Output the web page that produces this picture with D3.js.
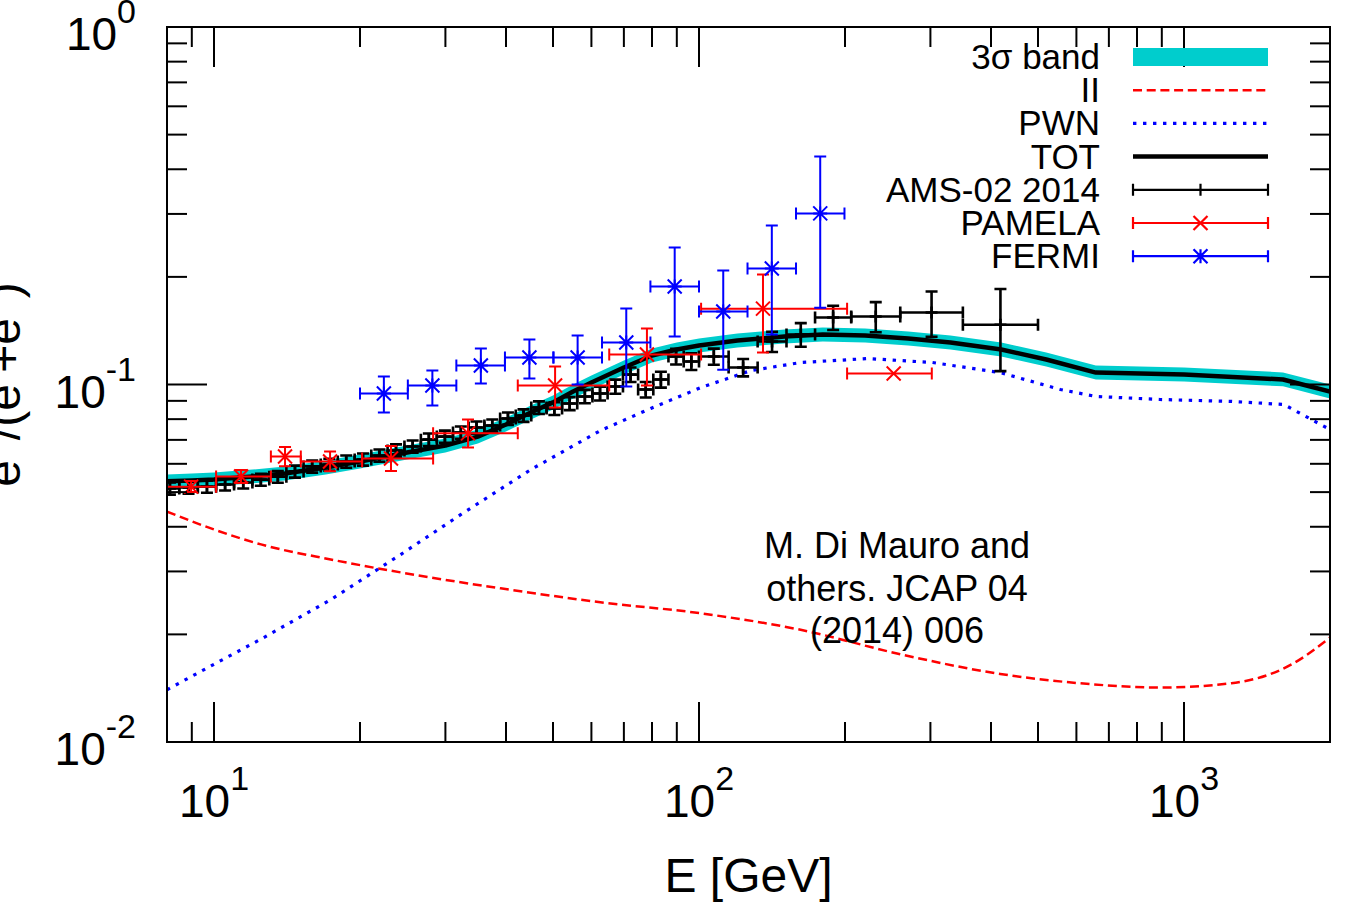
<!DOCTYPE html>
<html>
<head>
<meta charset="utf-8">
<script src="https://cdn.jsdelivr.net/npm/d3@7"></script>
<style>
  body { margin: 0; background: #fff; }
  text { font-family: "Liberation Sans", Arial, Helvetica, sans-serif; fill: #000; }
</style>
</head>
<body>
<script>
// ---- model curves ----
var modelE = [8, 9, 10, 12, 14, 17, 20, 25, 30, 35, 40, 45, 50, 55, 60, 70, 80, 90, 100, 120, 150, 180, 220, 270, 330, 420, 520, 658, 1000, 1600, 2000];
var totVal = [0.0536, 0.0539, 0.0542, 0.0553, 0.0564, 0.0586, 0.0609, 0.0645, 0.0675, 0.0715, 0.0773, 0.0835, 0.0891, 0.0956, 0.1013, 0.1116, 0.1205, 0.1253, 0.1286, 0.1328, 0.1362, 0.1380, 0.1371, 0.1345, 0.1311, 0.1253, 0.1175, 0.1080, 0.1067, 0.1033, 0.0956];
var bandHi = [0.0560, 0.0564, 0.0567, 0.0578, 0.0590, 0.0613, 0.0637, 0.0675, 0.0706, 0.0748, 0.0808, 0.0873, 0.0932, 0.1000, 0.1060, 0.1167, 0.1260, 0.1311, 0.1345, 0.1389, 0.1425, 0.1443, 0.1434, 0.1407, 0.1371, 0.1311, 0.1229, 0.1130, 0.1116, 0.1081, 0.1000];
var bandLo = [0.0512, 0.0515, 0.0519, 0.0529, 0.0539, 0.0560, 0.0582, 0.0617, 0.0645, 0.0684, 0.0739, 0.0798, 0.0851, 0.0914, 0.0968, 0.1067, 0.1152, 0.1198, 0.1229, 0.1270, 0.1302, 0.1319, 0.1311, 0.1286, 0.1253, 0.1198, 0.1123, 0.1033, 0.1020, 0.0988, 0.0914];

var iiE   = [8, 10, 12.5, 17.4, 24.3, 39, 62.6, 101, 162, 260, 418, 610, 892, 1252, 1669, 2000];
var iiVal = [0.0441, 0.0393, 0.0357, 0.0324, 0.0298, 0.0269, 0.0246, 0.0229, 0.0206, 0.0176, 0.0155, 0.0146, 0.0142, 0.0146, 0.0165, 0.0196];

var pwnE   = [8, 10, 12.5, 17.4, 24.3, 32.3, 45, 62.6, 79.5, 101, 128, 162, 223, 303, 418, 556, 658, 892, 1252, 1607, 2000];
var pwnVal = [0.0140, 0.0165, 0.0194, 0.0250, 0.0335, 0.0433, 0.0578, 0.0743, 0.0857, 0.0981, 0.1094, 0.1152, 0.1182, 0.1152, 0.1080, 0.0968, 0.0926, 0.0908, 0.0897, 0.0879, 0.0748];

// ---- data points ----
// AMS-02 2014: [Elo, Ehi, value, error]
var ams = [
  [7.76, 8.48, 0.0512, 0.0020], [8.48, 9.26, 0.0515, 0.0020], [9.26, 10.1, 0.0518, 0.0020],
  [10.1, 11.0, 0.0525, 0.0020], [11.0, 12.0, 0.0532, 0.0020], [12.0, 13.0, 0.0542, 0.0021],
  [13.0, 14.1, 0.0552, 0.0021], [14.1, 15.3, 0.0571, 0.0022], [15.3, 16.6, 0.0590, 0.0023],
  [16.6, 18.0, 0.0597, 0.0023], [18.0, 19.5, 0.0609, 0.0024], [19.5, 21.1, 0.0617, 0.0024],
  [21.1, 22.8, 0.0633, 0.0025], [22.8, 24.7, 0.0654, 0.0026], [24.7, 26.7, 0.0671, 0.0026],
  [26.7, 28.8, 0.0701, 0.0028], [28.8, 31.1, 0.0715, 0.0028], [31.1, 33.5, 0.0734, 0.0029],
  [33.5, 36.1, 0.0758, 0.0030], [36.1, 38.9, 0.0768, 0.0030], [38.9, 41.9, 0.0803, 0.0032],
  [41.9, 45.1, 0.0819, 0.0033], [45.1, 48.5, 0.0862, 0.0035], [48.5, 52.2, 0.0857, 0.0035],
  [52.2, 56.1, 0.0885, 0.0037], [56.1, 60.3, 0.0926, 0.0040], [60.3, 64.8, 0.0944, 0.0042],
  [64.8, 69.7, 0.0987, 0.0045], [69.7, 74.9, 0.1066, 0.0050], [74.9, 80.5, 0.0968, 0.0048],
  [80.5, 86.5, 0.1033, 0.0053], [86.5, 93.0, 0.1198, 0.0060], [93.0, 100, 0.1160, 0.0062],
  [100, 115.1, 0.1198, 0.0062], [115.1, 132.1, 0.1116, 0.0062], [132.1, 151.5, 0.1319, 0.0086],
  [151.5, 173.5, 0.1380, 0.0105], [173.5, 206, 0.1540, 0.0120], [206, 260, 0.1550, 0.0150],
  [260, 350, 0.1590, 0.0230], [350, 500, 0.1470, 0.0380]
];
// PAMELA: [E, Elo, Ehi, value, low, high]
var pamela = [
  [8.97, 8.0, 10.1, 0.0518, 0.0500, 0.0537],
  [11.37, 10.1, 13.1, 0.0553, 0.0530, 0.0577],
  [14.01, 13.1, 15.1, 0.0629, 0.0591, 0.0669],
  [17.35, 15.1, 20.2, 0.0609, 0.0572, 0.0649],
  [23.17, 20.2, 28.3, 0.0621, 0.0573, 0.0673],
  [33.4, 28.3, 42.3, 0.0730, 0.0667, 0.0798],
  [50.5, 42.3, 65.3, 0.0994, 0.0862, 0.1123],
  [78.1, 65.3, 101, 0.1213, 0.0994, 0.1434],
  [135.5, 101, 202, 0.1630, 0.1229, 0.2030],
  [252, 202, 302, 0.1073, 0.1073, 0.1073]
];
// FERMI: [E, Elo, Ehi, value, low, high]
var fermi = [
  [22.4, 20, 25.1, 0.0944, 0.0835, 0.1053],
  [28.2, 25.1, 31.6, 0.0994, 0.0874, 0.1094],
  [35.5, 31.6, 39.8, 0.1130, 0.1006, 0.1261],
  [44.7, 39.8, 50.1, 0.1190, 0.1039, 0.1337],
  [56.2, 50.1, 63.1, 0.1190, 0.1000, 0.1371],
  [70.8, 63.1, 79.4, 0.1311, 0.0987, 0.1631],
  [89.1, 79.4, 100, 0.1880, 0.1362, 0.2417],
  [112.2, 100, 125.9, 0.1600, 0.1100, 0.2085],
  [141.3, 125.9, 158.5, 0.2110, 0.1380, 0.2785],
  [177.8, 158.5, 199.5, 0.3010, 0.1640, 0.4340]
];

var xMajor = [10, 100, 1000], xExp = ["1", "2", "3"];
var yMajor = [1, 0.1, 0.01], yExp = ["0", "-1", "-2"];
var legendNames = ["3\u03c3 band", "II", "PWN", "TOT", "AMS-02 2014", "PAMELA", "FERMI"];
var noteLines = ["M. Di Mauro and", "others. JCAP 04", "(2014) 006"];

var W = 1358, H = 908;
var pL = 167, pR = 1330, pT = 27, pB = 742;
var RED = "#ff0000", BLUE = "#0000ff", CYAN = "#00cdcd";

var svg = d3.select("body").append("svg").attr("width", W).attr("height", H);
svg.append("rect").attr("width", W).attr("height", H).attr("fill", "#fff");

var x = d3.scaleLog().domain([8, 2000]).range([pL, pR]);
var y = d3.scaleLog().domain([0.01, 1]).range([pB, pT]);

svg.append("clipPath").attr("id", "plotclip").append("rect")
  .attr("x", pL).attr("y", pT).attr("width", pR - pL).attr("height", pB - pT);
var plot = svg.append("g").attr("clip-path", "url(#plotclip)");

// band
var band = modelE.map(function(e, i) { return {e: e, lo: bandLo[i], hi: bandHi[i]}; });
plot.append("path").datum(band)
  .attr("fill", CYAN)
  .attr("d", d3.area().x(function(d) { return x(d.e); })
    .y0(function(d) { return y(d.lo); }).y1(function(d) { return y(d.hi); }));

var line = d3.line().x(function(d) { return x(d[0]); }).y(function(d) { return y(d[1]); });
var smooth = d3.line().curve(d3.curveMonotoneX).x(function(d) { return x(d[0]); }).y(function(d) { return y(d[1]); });

plot.append("path").datum(modelE.map(function(e, i) { return [e, totVal[i]]; }))
  .attr("fill", "none").attr("stroke", "#000").attr("stroke-width", 4.5)
  .attr("stroke-linejoin", "round").attr("d", line);
plot.append("path").datum(iiE.map(function(e, i) { return [e, iiVal[i]]; }))
  .attr("fill", "none").attr("stroke", RED).attr("stroke-width", 2.5)
  .attr("stroke-dasharray", "9,4.7").attr("d", smooth);
plot.append("path").datum(pwnE.map(function(e, i) { return [e, pwnVal[i]]; }))
  .attr("fill", "none").attr("stroke", BLUE).attr("stroke-width", 3.2)
  .attr("stroke-dasharray", "3.4,6.6").attr("d", line);

// error bar helpers
var cap = 6;
function markerPath(type, cx, cy, s) {
  var plus = "M" + (cx - s) + "," + cy + "H" + (cx + s) + "M" + cx + "," + (cy - s) + "V" + (cy + s);
  var cross = "M" + (cx - s) + "," + (cy - s) + "L" + (cx + s) + "," + (cy + s) +
              "M" + (cx - s) + "," + (cy + s) + "L" + (cx + s) + "," + (cy - s);
  if (type === "plus") return plus;
  if (type === "cross") return cross;
  return plus + cross;
}
function errPath(d) {
  var cx = x(d.e), cy = y(d.v), x0 = x(d.elo), x1 = x(d.ehi), y0 = y(d.lo), y1 = y(d.hi);
  var p = "M" + x0 + "," + cy + "H" + x1 +
          "M" + x0 + "," + (cy - cap) + "V" + (cy + cap) +
          "M" + x1 + "," + (cy - cap) + "V" + (cy + cap);
  if (Math.abs(y0 - y1) > 0.5) {
    p += "M" + cx + "," + y0 + "V" + y1 +
         "M" + (cx - cap) + "," + y0 + "H" + (cx + cap) +
         "M" + (cx - cap) + "," + y1 + "H" + (cx + cap);
  }
  return p;
}
function drawSet(rows, color, type, size, sw) {
  var g = plot.append("g").attr("fill", "none").attr("stroke", color).attr("stroke-width", sw);
  g.selectAll("path.err").data(rows).join("path").attr("class", "err").attr("d", errPath);
  g.selectAll("path.mk").data(rows).join("path").attr("class", "mk")
    .attr("d", function(d) { return markerPath(type, x(d.e), y(d.v), size); });
}

var amsRows = ams.map(function(r) {
  return {e: Math.sqrt(r[0] * r[1]), elo: r[0], ehi: r[1], v: r[2], lo: r[2] - r[3], hi: r[2] + r[3]};
});
function rowObj(r) { return {e: r[0], elo: r[1], ehi: r[2], v: r[3], lo: r[4], hi: r[5]}; }

drawSet(amsRows, "#000", "plus", 6, 2.6);
drawSet(pamela.map(rowObj), RED, "cross", 7, 2);
drawSet(fermi.map(rowObj), BLUE, "star", 7, 2);

// frame and ticks
var axes = svg.append("g").attr("stroke", "#000").attr("stroke-width", 2).attr("fill", "none");
var yt = y.ticks(), xt = x.ticks().filter(function(t) { return t > 8 && t < 2000; });
function isMajor(t) { return Math.abs(Math.log10(t) - Math.round(Math.log10(t))) < 1e-6; }
yt.forEach(function(t) {
  var L = isMajor(t) ? 40 : 20, py = y(t);
  axes.append("line").attr("x1", pL).attr("x2", pL + L).attr("y1", py).attr("y2", py);
  axes.append("line").attr("x1", pR).attr("x2", pR - L).attr("y1", py).attr("y2", py);
});
xt.forEach(function(t) {
  var L = isMajor(t) ? 40 : 20, px = x(t);
  axes.append("line").attr("x1", px).attr("x2", px).attr("y1", pB).attr("y2", pB - L);
  axes.append("line").attr("x1", px).attr("x2", px).attr("y1", pT).attr("y2", pT + L);
});
axes.append("rect").attr("x", pL).attr("y", pT).attr("width", pR - pL).attr("height", pB - pT);

// tick labels
yMajor.forEach(function(t, i) {
  var tx = svg.append("text").attr("x", 136).attr("y", y(t) + 23)
    .attr("text-anchor", "end").style("font-size", "46px");
  tx.append("tspan").text("10");
  tx.append("tspan").attr("dy", -27).style("font-size", "34px").text(yExp[i]);
});
xMajor.forEach(function(t, i) {
  var tx = svg.append("text").attr("x", x(t)).attr("y", 817)
    .attr("text-anchor", "middle").style("font-size", "46px");
  tx.append("tspan").text("10");
  tx.append("tspan").attr("dy", -27).style("font-size", "34px").text(xExp[i]);
});

// axis titles
svg.append("text").attr("x", (pL + pR) / 2).attr("y", 892)
  .attr("text-anchor", "middle").style("font-size", "48px").text("E [GeV]");
var yl = svg.append("text").attr("transform", "translate(20," + ((pT + pB) / 2) + ") rotate(-90)")
  .attr("text-anchor", "middle").style("font-size", "48px");
yl.append("tspan").text("e");
yl.append("tspan").attr("dy", -18).style("font-size", "34px").text("+");
yl.append("tspan").attr("dy", 18).text("/(e");
yl.append("tspan").attr("dy", -18).style("font-size", "34px").text("-");
yl.append("tspan").attr("dy", 18).text("+e");
yl.append("tspan").attr("dy", -18).style("font-size", "34px").text("+");
yl.append("tspan").attr("dy", 18).text(")");

// legend
var lg = svg.append("g");
var lx0 = 1133, lx1 = 1268, ly0 = 57, ldy = 33.2;
function ly(i) { return ly0 + i * ldy; }
legendNames.forEach(function(name, i) {
  lg.append("text").attr("x", 1100).attr("y", ly(i) + 12).attr("text-anchor", "end")
    .style("font-size", "35px").text(name);
});
lg.append("rect").attr("x", lx0).attr("y", ly(0) - 9).attr("width", lx1 - lx0).attr("height", 18).attr("fill", CYAN);
lg.append("line").attr("x1", lx0).attr("x2", lx1).attr("y1", ly(1)).attr("y2", ly(1))
  .attr("stroke", RED).attr("stroke-width", 2.5).attr("stroke-dasharray", "9,4.7");
lg.append("line").attr("x1", lx0).attr("x2", lx1).attr("y1", ly(2)).attr("y2", ly(2))
  .attr("stroke", BLUE).attr("stroke-width", 3.2).attr("stroke-dasharray", "3.4,6.6");
lg.append("line").attr("x1", lx0).attr("x2", lx1).attr("y1", ly(3)).attr("y2", ly(3))
  .attr("stroke", "#000").attr("stroke-width", 4.5);
[["#000", "plus", 6], [RED, "cross", 7], [BLUE, "star", 7]].forEach(function(s, k) {
  var cy = ly(4 + k), cx = (lx0 + lx1) / 2;
  var p = "M" + lx0 + "," + cy + "H" + lx1 +
          "M" + lx0 + "," + (cy - cap) + "V" + (cy + cap) +
          "M" + lx1 + "," + (cy - cap) + "V" + (cy + cap);
  lg.append("path").attr("d", p + markerPath(s[1], cx, cy, s[2]))
    .attr("fill", "none").attr("stroke", s[0]).attr("stroke-width", 2.2);
});

// citation note
noteLines.forEach(function(t, i) {
  svg.append("text").attr("x", 897).attr("y", 558 + i * 42.5)
    .attr("text-anchor", "middle").style("font-size", "36px").text(t);
});
</script>
</body>
</html>
